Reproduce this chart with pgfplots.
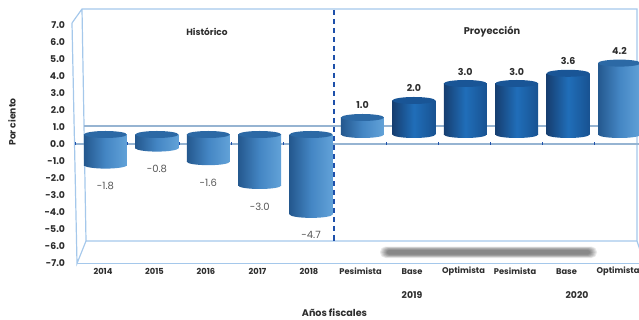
\documentclass[border=0pt]{standalone}
\usepackage{pgfplots}
\pgfplotsset{compat=1.18}
\usepackage{fontspec}
\setmainfont{Poppins}
\usetikzlibrary{shapes.geometric}

\definecolor{frameblue}{RGB}{165,200,235}
\definecolor{bandblue}{RGB}{150,180,210}
\definecolor{divider}{RGB}{30,80,170}
\definecolor{labeldark}{RGB}{45,45,45}
\definecolor{labelgrey}{RGB}{85,85,85}
\definecolor{lightleft}{RGB}{36,88,142}
\definecolor{lightmid}{RGB}{68,134,196}
\definecolor{lightright}{RGB}{98,162,216}
\definecolor{darkleft}{RGB}{22,62,112}
\definecolor{darkmid}{RGB}{32,110,185}
\definecolor{darkright}{RGB}{24,82,145}
\definecolor{caplight}{RGB}{44,105,165}
\definecolor{capdark}{RGB}{25,85,150}

% labelled values by fiscal year
\pgfplotstableread{
x v
0 -1.8
1 -0.8
2 -1.6
3 -3.0
4 -4.7
}\historico
\pgfplotstableread{
x v
5 1.0
6 2.0
7 3.0
8 3.0
9 3.6
10 4.2
}\proyeccion

\pgfplotsset{
  /pgf/number format/assume math mode=true,
  /pgf/number format/fixed,
  /pgf/number format/fixed zerofill,
  /pgf/number format/precision=1,
  caja/.style={
    scale only axis, width=566.5pt, height=255pt,
    at={(75pt,-264pt)}, anchor=south west, clip=false,
  },
  disco/.style n args={3}{
    only marks, mark=none, point meta=y,
    nodes near coords={},
    every node near coord/.style={
      shape=ellipse, anchor=center, inner sep=0pt, draw=none,
      minimum width=43pt, minimum height=7pt,
      left color=#1, right color=#3, middle color=#2,
    },
  },
  cilindro/.style n args={3}{
    ybar, bar shift=0pt, bar width=43pt, draw=none,
    left color=#1, right color=#3, middle color=#2,
  },
  clara/.style={#1={lightleft}{lightmid}{lightright}},
  oscura/.style={#1={darkleft}{darkmid}{darkright}},
}

% one cylinder hanging below zero: position, value
\newcommand{\negativa}[2]{%
  \addplot[clara=disco] coordinates {(#1,#2)};
  \addplot[clara=cilindro] coordinates {(#1,#2)};
  \addplot[disco={caplight}{caplight}{caplight}] coordinates {(#1,0)};
}
% one cylinder rising from zero: tone, position, value, cap colour
\newcommand{\positiva}[4]{%
  \addplot[#1=disco] coordinates {(#2,0)};
  \addplot[#1=cilindro] coordinates {(#2,#3)};
  \addplot[disco={#4}{#4}{#4}] coordinates {(#2,#3)};
}

\begin{document}
\begin{tikzpicture}
\useasboundingbox (0pt,-320pt) rectangle (639pt,0pt);

% wireframe of the 3D chart box
\begin{scope}[x=1pt,y=-1pt]
  \draw[frameblue,line width=1.2pt] (72,23) -- (82,9) -- (637,9) -- (637,241) -- (86,241) -- (82,9);
  \draw[frameblue,line width=1.2pt] (72,23) -- (77,263.5) -- (86,241);
  \draw[frameblue,line width=1.2pt] (77,263.5) -- (639,263.5);
  \draw[frameblue,line width=1.2pt] (637,241) -- (640,250);
  \draw[bandblue,line width=1.3pt] (84,126) -- (639,126);
  \draw[bandblue,line width=1.6pt] (75,144) -- (639,144);
  % soft shadow on the floor
  \foreach \i in {0,1,...,6}{
    \fill[black,opacity=0.085,rounded corners={5.5pt-\i*0.4pt}]
      ({380+\i*1.1},{246.5+\i*0.55}) rectangle ({597-\i*1.1},{258-\i*0.55});
  }
\end{scope}

% tick labels of the front frame
\begin{axis}[caja,
  xmin=-0.5437, xmax=10.456, ymin=-7.076, ymax=7.924,
  axis line style={draw=none},
  xtick={0,...,10},
  xticklabels={2014,2015,2016,2017,2018,Pesimista,Base,Optimista,Pesimista,Base,Optimista},
  xtick style={draw=none},
  x tick label style={font=\fontsize{8.3}{10}\selectfont\bfseries,text=labeldark,anchor=center,yshift=-7.5pt},
  ytick={-7,-6,...,7},
  ytick style={draw=none},
  y tick label style={font=\fontsize{9.3}{10}\selectfont\bfseries,text=labeldark,anchor=east,xshift=-6.5pt},
]
\addplot[draw=none] coordinates {(0,0)};
\end{axis}

% cylinders, with the value axis raised to the back of the box
\begin{axis}[caja,
  xmin=-0.593, xmax=10.428, ymin=-7.618, ymax=7.382,
  hide axis,
]
\negativa{0}{-1.8}
\negativa{1}{-0.8}
\negativa{2}{-1.6}
\negativa{3}{-3.0}
\negativa{4}{-4.7}
\positiva{clara}{5}{1.0}{caplight}
\positiva{oscura}{6}{2.0}{capdark}
\positiva{oscura}{7}{3.0}{capdark}
\positiva{oscura}{8}{3.0}{capdark}
\positiva{oscura}{9}{3.6}{capdark}
\positiva{clara}{10}{4.2}{caplight}

% value labels
\addplot[only marks, mark=none, point meta=y,
  nodes near coords,
  every node near coord/.style={anchor=center,yshift=-21pt,
    font=\fontsize{10}{11}\selectfont,text=labelgrey},
] table[x=x,y=v] {\historico};
\addplot[only marks, mark=none, point meta=y,
  nodes near coords,
  every node near coord/.style={anchor=center,yshift=12pt,
    font=\fontsize{9.5}{11}\selectfont\bfseries,text=labeldark},
] table[x=x,y=v] {\proyeccion};
\end{axis}

\begin{scope}[x=1pt,y=-1pt,text=labeldark]
  % divider between history and projection, in front of the bars
  \draw[divider,line width=1.6pt,dash pattern=on 5.5pt off 3.5pt] (333.7,10) -- (333.7,241);
  % tick marks along the zero line
  \foreach \px in {75,127,179,231,283,386.7,438,490,542,594}{
    \draw[divider,line width=0.8pt] (\px,142.5) -- (\px,145);
  }
  \node[font=\fontsize{9}{10}\selectfont\bfseries] at (207,32) {Histórico};
  \node[font=\fontsize{9.8}{10}\selectfont\bfseries] at (492,32) {Proyección};
  \node[font=\fontsize{9.3}{10}\selectfont\bfseries] at (412,295) {2019};
  \node[font=\fontsize{9.3}{10}\selectfont\bfseries] at (577,295) {2020};
  \node[font=\fontsize{9.6}{10}\selectfont\bfseries] at (334.5,313) {Años fiscales};
  \node[font=\fontsize{9.2}{10}\selectfont\bfseries,rotate=90] at (12,122) {Por\ ciento};
\end{scope}
\end{tikzpicture}
\end{document}
